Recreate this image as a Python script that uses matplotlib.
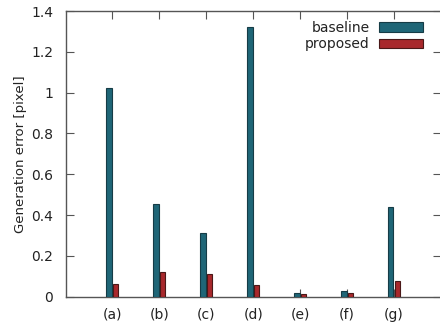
import matplotlib
matplotlib.use("Agg")
import matplotlib.pyplot as plt
import numpy as np

categories = ["(a)", "(b)", "(c)", "(d)", "(e)", "(f)", "(g)"]
baseline = [1.025, 0.453, 0.31, 1.32, 0.016, 0.026, 0.441]
proposed = [0.061, 0.121, 0.11, 0.056, 0.013, 0.017, 0.076]
yticks = [0, 0.2, 0.4, 0.6, 0.8, 1, 1.2, 1.4]
ytick_labels = ["0", "0.2", "0.4", "0.6", "0.8", "1", "1.2", "1.4"]

plt.rcParams['font.family'] = ['DejaVu Sans']
text_color = "#222222"
axis_color = "#555555"

fig = plt.figure(figsize=(4.4, 3.24), dpi=100)
ax = fig.add_axes([65.5/440, 1-296.7/324, (441-65.5)/440, (296.7-11)/324])

x = np.arange(1, len(categories) + 1)
w = 0.115
ax.bar(x - 0.07, baseline, width=w, color="#1f6677", edgecolor="#163c46",
       linewidth=0.8, label="baseline", zorder=3)
ax.bar(x + 0.07, proposed, width=w, color="#a8282c", edgecolor="#4a1818",
       linewidth=0.8, label="proposed", zorder=3)

ax.set_xlim(0, 8)
ax.set_ylim(0, 1.4)
ax.set_xticks(x)
ax.set_xticklabels(categories)
ax.set_yticks(yticks)
ax.set_yticklabels(ytick_labels)

ax.tick_params(axis='both', direction='in', length=5.8, width=0.8,
               color=axis_color, labelsize=10, labelcolor=text_color,
               top=True, right=True)
ax.tick_params(axis='x', pad=8)
ax.tick_params(axis='y', pad=9)
for s in ax.spines.values():
    s.set_color(axis_color)
    s.set_linewidth(1.0)
ax.spines['right'].set_visible(False)

ax.set_ylabel("Generation error [pixel]", fontsize=9.5, color=text_color, labelpad=3)

leg = ax.legend(loc='upper right', bbox_to_anchor=(0.952, 0.965), frameon=False,
                markerfirst=False, fontsize=10, handlelength=3.2, handleheight=0.65,
                handletextpad=0.65, labelspacing=0.15, borderpad=0, borderaxespad=0)
for t in leg.get_texts():
    t.set_color(text_color)

fig.savefig("out.png", dpi=100)
